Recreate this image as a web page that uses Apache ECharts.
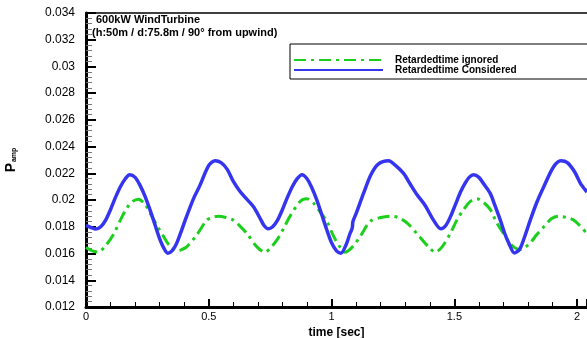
<!DOCTYPE html>
<html>
<head>
<meta charset="utf-8">
<script src="https://cdn.jsdelivr.net/npm/echarts@6/dist/echarts.min.js"></script>
<style>html,body{margin:0;padding:0;background:#fff}#c{width:587px;height:338px}</style>
</head>
<body>
<div id="c"></div>
<script>
// ---- data ----
const titleLine1 = "600kW WindTurbine";
const titleLine2 = "(h:50m / d:75.8m / 90\u00b0 from upwind)";
const seriesNames = ["Retardedtime ignored", "Retardedtime Considered"];
const xName = "time [sec]";

const ignoredT = [0.000,0.025,0.050,0.080,0.111,0.140,0.166,0.190,0.213,0.240,0.268,0.292,0.315,0.340,0.370,0.390,0.410,0.451,0.492,0.515,0.539,0.570,0.600,0.630,0.655,0.696,0.729,0.750,0.777,0.805,0.831,0.872,0.899,0.925,0.954,0.981,1.008,1.030,1.055,1.085,1.117,1.157,1.200,1.239,1.270,1.307,1.361,1.395,1.422,1.450,1.483,1.510,1.538,1.565,1.592,1.620,1.646,1.670,1.700,1.735,1.768,1.790,1.809,1.835,1.864,1.895,1.923,1.955,1.986,2.010,2.040];
const ignoredV = [0.01645,0.0162,0.01612,0.0166,0.0174,0.0185,0.0194,0.0199,0.02007,0.0197,0.0188,0.0180,0.0173,0.0166,0.0162,0.0163,0.0165,0.0174,0.0185,0.0187,0.0188,0.0187,0.0185,0.0180,0.0175,0.0165,0.0161,0.0164,0.0170,0.0179,0.0188,0.0199,0.0201,0.0198,0.0191,0.0184,0.0173,0.0166,0.0161,0.0165,0.0173,0.0184,0.0187,0.0188,0.0187,0.0183,0.0172,0.0165,0.0161,0.0165,0.0175,0.0185,0.0193,0.0199,0.0201,0.0198,0.0193,0.0184,0.0175,0.0166,0.0163,0.0165,0.0168,0.0174,0.0180,0.0186,0.0188,0.0187,0.0185,0.0181,0.0175];

const consideredT = [0.000,0.020,0.040,0.060,0.080,0.100,0.120,0.140,0.160,0.178,0.200,0.220,0.240,0.260,0.280,0.300,0.317,0.333,0.350,0.370,0.410,0.440,0.464,0.500,0.526,0.550,0.575,0.600,0.625,0.648,0.682,0.710,0.725,0.742,0.760,0.780,0.800,0.820,0.840,0.860,0.879,0.900,0.920,0.940,0.960,0.980,1.000,1.020,1.038,1.060,1.075,1.084,1.087,1.100,1.130,1.160,1.190,1.232,1.260,1.293,1.320,1.348,1.381,1.415,1.445,1.465,1.485,1.505,1.525,1.545,1.560,1.578,1.600,1.620,1.646,1.665,1.687,1.705,1.721,1.744,1.765,1.785,1.809,1.835,1.864,1.904,1.934,1.960,1.990,2.015,2.040];
const consideredV = [0.0181,0.01795,0.01783,0.0180,0.0185,0.0193,0.0202,0.0210,0.0216,0.0219,0.0217,0.0211,0.0203,0.0193,0.0182,0.0171,0.0164,0.01603,0.0162,0.0168,0.0188,0.0202,0.0211,0.0226,0.02295,0.0228,0.0223,0.0214,0.0207,0.0202,0.0195,0.0186,0.0181,0.01785,0.0180,0.0185,0.0193,0.0202,0.0210,0.0216,0.0219,0.0216,0.0209,0.0200,0.0189,0.0178,0.0168,0.0162,0.01603,0.0167,0.0175,0.0179,0.0184,0.0190,0.0205,0.0219,0.0227,0.02295,0.0226,0.0220,0.0212,0.0204,0.0196,0.0185,0.01785,0.0181,0.0188,0.0197,0.0206,0.0213,0.0217,0.0219,0.0217,0.0212,0.0205,0.0196,0.0185,0.0175,0.0168,0.01605,0.0163,0.0172,0.0185,0.0198,0.0210,0.0225,0.02295,0.0228,0.0221,0.0212,0.0206];

const xTicks = [0, 0.5, 1, 1.5, 2];
const yTicks = [0.012,0.014,0.016,0.018,0.02,0.022,0.024,0.026,0.028,0.03,0.032,0.034];

function pairs(t, v) { return t.map((x, i) => [x, v[i]]); }

const FONT = "Liberation Sans, Arial, Helvetica, sans-serif";
const chart = echarts.init(document.getElementById('c'), null, {renderer: 'canvas'});

chart.setOption({
  backgroundColor: '#ffffff',
  animation: false,
  grid: {left: 86, right: 0, top: 13, bottom: 31, containLabel: false, outerBoundsMode: 'none'},
  legend: {
    orient: 'vertical',
    left: 290, top: 44,
    padding: [11, 80, 4, 3],
    itemGap: 0,
    itemWidth: 89, itemHeight: 10,
    borderColor: '#000', borderWidth: 1,
    itemStyle: {opacity: 0},
    textStyle: {fontFamily: FONT, fontWeight: 'bold', fontSize: 10, color: '#000', padding: [0, 0, 0, 7]},
    data: seriesNames
  },
  xAxis: [{
    type: 'value', min: xTicks[0], max: 2.04, interval: 0.5,
    name: xName, nameLocation: 'middle', nameGap: 15,
    nameTextStyle: {fontFamily: FONT, fontWeight: 'bold', fontSize: 12, color: '#000'},
    axisLine: {show: true, onZero: false, lineStyle: {color: '#000', width: 3}},
    axisTick: {show: true, inside: true, length: 8, lineStyle: {color: '#000', width: 2}},
    minorTick: {show: true, splitNumber: 5, length: 5, lineStyle: {color: '#000', width: 1}},
    axisLabel: {fontFamily: FONT, fontSize: 11, color: '#000', margin: 4,
      formatter: v => xTicks.includes(+v.toFixed(3)) ? String(+v.toFixed(3)) : ''},
    splitLine: {show: false}
  }, {
    type: 'value', position: 'top', min: xTicks[0], max: 2.04,
    axisLine: {show: true, onZero: false, lineStyle: {color: '#000', width: 1.5}},
    axisTick: {show: false}, axisLabel: {show: false}, splitLine: {show: false}
  }],
  yAxis: {
    type: 'value', min: yTicks[0], max: yTicks[yTicks.length - 1], interval: 0.002,
    name: '{p|P}{s|amp}', nameLocation: 'middle', nameGap: 68, nameRotate: 90,
    nameTextStyle: {rich: {
      p: {fontFamily: FONT, fontWeight: 'bold', fontSize: 14, color: '#000'},
      s: {fontFamily: FONT, fontWeight: 'bold', fontSize: 7, color: '#000', verticalAlign: 'bottom', padding: [6, 0, 0, 1]}
    }},
    axisLine: {show: true, onZero: false, lineStyle: {color: '#000', width: 3}},
    axisTick: {show: true, inside: true, length: 10, lineStyle: {color: '#000', width: 2}},
    minorTick: {show: true, splitNumber: 5, length: 6, lineStyle: {color: '#777', width: 1}},
    axisLabel: {fontFamily: FONT, fontSize: 12, color: '#000', margin: 11,
      formatter: v => String(+v.toFixed(3))},
    splitLine: {show: false}
  },
  series: [{
    name: seriesNames[0], type: 'line', data: pairs(ignoredT, ignoredV),
    smooth: 0.3, symbol: 'none', showSymbol: false, z: 2,
    lineStyle: {color: '#1ccf1c', width: 3, type: [12, 5, 3, 5], cap: 'butt'},
    itemStyle: {color: '#1ccf1c'}
  }, {
    name: seriesNames[1], type: 'line', data: pairs(consideredT, consideredV),
    smooth: 0.3, symbol: 'none', showSymbol: false, z: 3,
    lineStyle: {color: '#3535f0', width: 3.5},
    itemStyle: {color: '#3535f0'}
  }],
  graphic: [
    {type: 'text', left: 96, top: 14, silent: true,
     style: {text: titleLine1, font: 'bold 11px ' + FONT, fill: '#000'}},
    {type: 'text', left: 92, top: 27, silent: true,
     style: {text: titleLine2, font: 'bold 11px ' + FONT, fill: '#000'}}
  ]
});
</script>
</body>
</html>
